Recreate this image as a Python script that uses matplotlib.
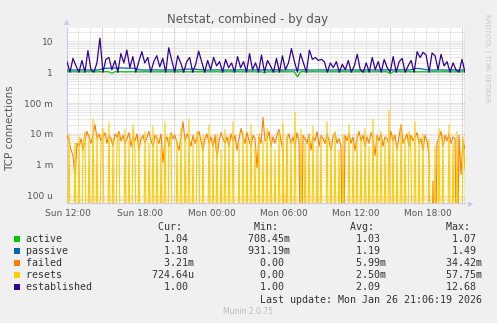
import numpy as np
import matplotlib
matplotlib.use("Agg")
import matplotlib.pyplot as plt
from matplotlib.ticker import LogLocator, FixedLocator, NullFormatter

# hours since Sun 00:00
t_start, t_end = 11.92, 45.08

established = [2.2, 1.0, 2.8, 1.6, 1.0, 2.4, 1.0, 5.0, 1.2, 1.0, 2.0, 12.7,
               1.0, 2.6, 3.0, 1.2, 2.4, 1.0, 4.0, 2.0, 5.2, 1.4, 3.2, 1.0, 2.2, 4.6, 2.0, 3.0, 1.0, 2.2, 3.4, 1.5, 2.8, 1.0,
               6.2, 2.4, 1.0, 3.4, 2.0, 1.0, 2.2, 3.0, 1.0, 1.8, 4.8, 2.2, 1.0, 2.4, 1.2, 3.0, 1.6, 2.2, 1.0, 2.6, 1.4, 2.0,
               1.0, 3.2, 1.4, 2.2, 1.0, 4.0, 1.2, 2.0, 1.0, 3.6, 1.0, 2.4, 1.6, 1.0, 2.8, 1.0, 3.4, 1.2, 2.0, 5.8, 2.2, 1.0,
               4.0, 2.0, 1.0, 5.2, 2.6, 3.0, 2.4, 2.6, 2.2, 1.0, 2.0, 1.4, 2.2, 1.0, 1.8, 1.2, 2.4, 1.0, 1.6, 3.8, 1.2, 1.0,
               2.0, 1.0, 3.0, 1.2, 2.2, 1.0, 2.6, 1.4, 1.0, 3.2, 1.0, 2.2, 2.8, 1.0, 1.6, 2.4, 1.0, 4.6, 3.0, 4.4, 3.6, 1.0,
               4.2, 3.4, 1.2, 3.8, 1.6, 2.2, 1.0, 2.0, 1.2, 1.0, 2.6, 1.0]

passive = [1.17, 1.18, 1.18, 1.17, 1.18, 1.19, 1.18, 1.18, 1.17, 1.18, 1.18, 1.20,
           1.30, 1.34, 1.36, 1.35, 1.36, 1.35, 1.37, 1.36, 1.35, 1.34, 1.35, 1.30, 1.20, 1.18, 1.18, 1.17, 1.18, 1.18, 1.19, 1.18, 1.17, 1.18,
           1.18, 1.19, 1.18, 1.17, 1.20, 1.24, 1.26, 1.25, 1.27, 1.24, 1.22, 1.19, 1.18, 1.17, 1.18, 1.18, 1.19, 1.18, 1.17, 1.18, 1.18, 1.18,
           1.17, 1.18, 1.19, 1.18, 1.18, 1.17, 1.18, 1.18, 1.19, 1.18, 1.17, 1.18, 1.18, 1.18, 1.19, 1.18, 1.17, 1.18, 1.18, 1.19, 1.18, 1.17,
           1.18, 1.19, 1.18, 1.18, 1.17, 1.18, 1.19, 1.18, 1.18, 1.17, 1.18, 1.18, 1.19, 1.18, 1.17, 1.18, 1.18, 1.19, 1.18, 1.17, 1.18, 1.18,
           1.18, 1.19, 1.18, 1.17, 1.18, 1.18, 1.19, 1.18, 1.17, 1.18, 1.18, 1.18, 1.19, 1.18, 1.17, 1.20, 1.28, 1.32, 1.30, 1.26, 1.20, 1.18,
           1.17, 1.18, 1.19, 1.18, 1.18, 1.17, 1.18, 1.19, 1.18, 1.18, 1.17, 1.18]

active = [1.04, 1.03, 1.04, 1.03, 1.04, 1.03, 1.03, 1.04, 1.03, 1.04, 1.03, 1.04,
          1.03, 1.04, 1.03, 0.92, 1.04, 1.03, 1.04, 1.03, 1.03, 1.04, 1.03, 1.04, 1.03, 1.03, 1.04, 1.03, 1.04, 1.03, 1.03, 1.04, 1.03, 1.04,
          1.03, 1.04, 1.03, 1.03, 1.04, 1.03, 1.04, 1.03, 1.03, 1.04, 1.03, 1.04, 1.03, 1.03, 1.04, 1.03, 1.04, 1.03, 1.03, 1.04, 1.03, 1.04,
          1.03, 1.04, 1.03, 1.03, 1.04, 1.03, 1.04, 1.03, 1.03, 1.04, 0.95, 1.04, 1.03, 1.03, 1.04, 1.03, 1.04, 1.03, 1.03, 1.04, 1.03, 0.71,
          1.03, 1.04, 1.03, 1.03, 1.04, 1.03, 1.04, 1.03, 1.03, 1.04, 1.03, 1.04, 1.03, 1.03, 1.04, 1.03, 1.04, 1.03, 1.03, 1.04, 1.03, 1.04,
          1.03, 1.04, 1.03, 1.03, 1.04, 1.03, 1.04, 1.03, 0.90, 1.04, 1.03, 1.04, 1.03, 1.03, 1.04, 1.03, 1.04, 1.03, 1.03, 1.04, 1.03, 1.04,
          1.03, 1.04, 1.03, 1.03, 1.04, 1.03, 1.04, 1.03, 1.03, 1.04, 1.03, 1.04]

# in milli-connections, 10 minute steps
failed = [9, 6, 3, 2, 0.4, 5, 4, 7, 3, 6, 12, 8, 5, 9, 20, 7, 10, 6, 8, 11,
          5, 9, 7, 4, 10, 8, 12, 6, 9, 5, 7, 11, 4, 8, 6, 10, 3, 7, 9, 5,
          8, 12, 6, 4, 9, 7, 5, 10, 1.2, 6, 8, 4, 11, 7, 9, 5, 3, 8, 25, 6,
          10, 7, 4, 9, 5, 8, 12, 6, 3, 7, 10, 5, 8, 4, 9, 1.5, 6, 11, 7, 5,
          8, 4, 10, 6, 9, 3, 7, 15, 8, 5, 11, 6, 4, 9, 7, 0.8, 8, 5, 34.4, 6,
          7, 12, 4, 8, 5, 9, 14, 6, 3, 0, 7, 10, 5, 8, 4, 11, 6, 0, 9, 7,
          5, 10, 3, 8, 6, 12, 4, 9, 7, 5, 10, 6, 3, 8, 11, 5, 7, 4, 0, 9,
          6, 10, 5, 8, 3, 7, 12, 6, 9, 4, 8, 5, 11, 7, 2, 9, 6, 10, 4, 8,
          7, 5, 12, 6, 9, 3, 8, 20, 5, 7, 10, 4, 9, 6, 8, 11, 5, 7, 3, 9,
          6, 2, 0, 0.3, 0, 5, 8, 12, 4, 9, 6, 10, 5, 8, 7, 0, 9, 0.5, 6, 3.21]

resets = [0, 10, 0, 0, 5, 0, 8, 0, 3, 12, 0, 6, 0, 30, 0, 9, 0, 4, 15, 0,
          0, 25, 0, 7, 0, 5, 10, 0, 0, 14, 0, 6, 0, 20, 3, 0, 8, 0, 0, 12,
          0, 5, 0, 18, 0, 9, 0, 4, 0, 25, 0, 7, 10, 0, 0, 6, 0, 15, 0, 8,
          0, 30, 0, 5, 0, 12, 4, 0, 9, 0, 0, 20, 0, 6, 0, 10, 0, 3, 0, 14,
          0, 8, 0, 25, 0, 0, 5, 0, 12, 0, 7, 0, 20, 0, 4, 0, 10, 0, 6, 0,
          15, 0, 8, 0, 3, 0, 12, 0, 22, 0, 9, 0, 6, 0, 50, 0, 0, 14, 0, 5,
          0, 10, 0, 18, 0, 4, 0, 8, 0, 0, 25, 0, 6, 0, 12, 0, 3, 0, 9, 0,
          0, 20, 0, 5, 0, 10, 0, 7, 0, 15, 0, 4, 0, 30, 0, 8, 0, 12, 0, 6,
          0, 57.75, 0, 9, 0, 5, 0, 18, 0, 7, 0, 12, 3, 0, 25, 0, 8, 0, 10, 0,
          0, 6, 0, 0, 4, 0, 15, 0, 9, 0, 0, 20, 0, 5, 0, 12, 0, 0, 8, 0.72]

series_names = ["active", "passive", "failed", "resets", "established"]
series_colors = ["#00CC00", "#0066B3", "#FF8000", "#FFCC00", "#330099"]
cur_vals = ["1.04 ", "1.18 ", "3.21m", "724.64u", "1.00 "]
min_vals = ["708.45m", "931.19m", "0.00 ", "0.00 ", "1.00 "]
avg_vals = ["1.03 ", "1.19 ", "5.99m", "2.50m", "2.09 "]
max_vals = ["1.07 ", "1.49 ", "34.42m", "57.75m", "12.68 "]

x_ticks = [12, 18, 24, 30, 36, 42]
x_labels = ["Sun 12:00", "Sun 18:00", "Mon 00:00", "Mon 06:00", "Mon 12:00", "Mon 18:00"]
y_ticks = [1e-4, 1e-3, 1e-2, 1e-1, 1, 10]
y_labels = ["100 u", "1 m", "10 m", "100 m", "1", "10"]

W, H = 497, 323
fig = plt.figure(figsize=(W / 100, H / 100), dpi=100, facecolor="#F0F0F0")
x0, x1, ytop, ybot = 67, 465, 28, 203
ax = fig.add_axes([x0 / W, 1 - ybot / H, (x1 - x0) / W, (ybot - ytop) / H])
ax.set_facecolor("white")
ax.set_yscale("log")
ax.set_xlim(t_start, t_end)
ax.set_ylim(5.8e-5, 27)


def to_plot(vals, scale=1.0):
    v = np.array(vals, dtype=float) * scale
    return np.where(v > 0, v, 1e-8)


t_slow = np.linspace(t_start, t_end, len(established))
t_fast = np.linspace(t_start, t_end, len(failed))
ax.plot(t_slow, to_plot(active), color=series_colors[0], lw=0.9, zorder=3)
ax.plot(t_slow, to_plot(passive), color=series_colors[1], lw=0.9, zorder=3)
ax.plot(t_fast, to_plot(failed, 1e-3), color=series_colors[2], lw=0.8, zorder=3)
ax.plot(t_fast, to_plot(resets, 1e-3), color=series_colors[3], lw=0.8, zorder=3)
ax.plot(t_slow, to_plot(established), color=series_colors[4], lw=0.9, zorder=3)

# grid: rrdtool puts its red lines off the label positions here
minor_style = dict(color="#D4D4D4", lw=0.72, ls=(0, (1, 1)))
major_style = dict(color="#EBA5A5", lw=0.72, ls=(0, (1, 2)))
major_v = np.arange(14.8, t_end, 6)
minor_v = np.arange(11.8, t_end, 1)
for xv in minor_v:
    ax.axvline(xv, zorder=1, **minor_style)
for xv in major_v:
    ax.axvline(xv, zorder=2, **major_style)
ax.yaxis.set_major_locator(FixedLocator(y_ticks))
ax.yaxis.set_minor_locator(LogLocator(base=10, subs=np.arange(2, 10)))
ax.yaxis.set_minor_formatter(NullFormatter())
ax.grid(axis="y", which="minor", zorder=1, **minor_style)
ax.grid(axis="y", which="major", zorder=2, **major_style)
ax.set_xticks(x_ticks)
ax.set_xticklabels(x_labels)
ax.set_yticks(y_ticks)
ax.set_yticklabels(y_labels)
ax.tick_params(which="both", length=0, colors="#555555", labelsize=6.5)
ax.tick_params(axis="y", pad=10)
ax.tick_params(axis="x", pad=4)

for s in ["top", "right"]:
    ax.spines[s].set_visible(False)
for s in ["left", "bottom"]:
    ax.spines[s].set_color("#C8C8F0")
    ax.spines[s].set_linewidth(0.8)
ax.axvline(t_end, color="#555555", lw=0.9, zorder=4)
fig.text(x0 / W, 1 - 22 / H, "\u25B2", color="#C8C8F0", fontsize=5, ha="center", va="center")
fig.text((x1 + 6) / W, 1 - 204 / H, "\u25B6", color="#C8C8F0", fontsize=5, ha="center", va="center")

fig.text(248 / W, 1 - 19 / H, "Netstat, combined - by day", color="#555555", fontsize=8.5,
         ha="center", va="center")
fig.text(10 / W, 1 - 128 / H, "TCP connections", color="#555555", fontsize=7.5,
         rotation=90, ha="center", va="center")
fig.text(487 / W, 1 - 58 / H, "RRDTOOL / TOBI OETIKER", color="#C8C8C8", fontsize=5,
         rotation=270, ha="center", va="center")
fig.text(248 / W, 1 - 311 / H, "Munin 2.0.75", color="#BBBBBB", fontsize=5.5,
         ha="center", va="center")

mono = "DejaVu Sans Mono"
fs = 7.2
header = " " * 22 + "Cur:" + " " * 12 + "Min:" + " " * 12 + "Avg:" + " " * 12 + "Max:"
fig.text(26 / W, 1 - 227 / H, header, family=mono, fontsize=fs, color="#333333", va="center")
for i, name in enumerate(series_names):
    yy = 239 + 12 * i
    line = f"{name:<21}{cur_vals[i]:>7}{min_vals[i]:>16}{avg_vals[i]:>16}{max_vals[i]:>16}"
    fig.text(26 / W, 1 - yy / H, line, family=mono, fontsize=fs, color="#333333", va="center")
    fig.patches.append(plt.Rectangle((14 / W, 1 - (yy + 3) / H), 6 / W, 6 / H,
                                     transform=fig.transFigure, facecolor=series_colors[i],
                                     edgecolor="none"))
last = "Last update: Mon Jan 26 21:06:19 2026"
fig.text(26 / W, 1 - 300 / H, " " * (76 - len(last)) + last, family=mono, fontsize=fs,
         color="#333333", va="center")

fig.savefig("out.png", dpi=100, facecolor=fig.get_facecolor())
